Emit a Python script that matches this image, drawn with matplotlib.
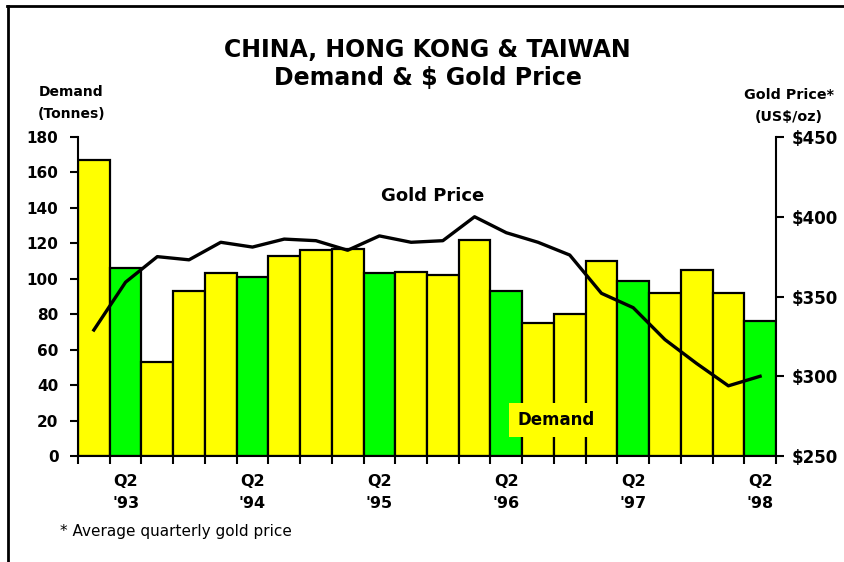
import matplotlib
matplotlib.use('Agg')
import matplotlib.pyplot as plt
from matplotlib.lines import Line2D
from matplotlib.transforms import blended_transform_factory
import numpy as np

plt.rcParams['font.family'] = ['DejaVu Sans']

# quarterly data, Q1 '93 .. Q2 '98
quarters = ['Q1 93', 'Q2 93', 'Q3 93', 'Q4 93', 'Q1 94', 'Q2 94', 'Q3 94', 'Q4 94',
            'Q1 95', 'Q2 95', 'Q3 95', 'Q4 95', 'Q1 96', 'Q2 96', 'Q3 96', 'Q4 96',
            'Q1 97', 'Q2 97', 'Q3 97', 'Q4 97', 'Q1 98', 'Q2 98']
demand = [167, 106, 53, 93, 103, 101, 113, 116, 117, 103, 104, 102,
          122, 93, 75, 80, 110, 99, 92, 105, 92, 76]
gold_price = [329, 359, 375, 373, 384, 381, 386, 385, 379, 388, 384, 385,
              400, 390, 384, 376, 352, 343, 323, 308, 294, 300]
years = ["'93", "'94", "'95", "'96", "'97", "'98"]

yellow = '#FFFF00'
green = '#00FF00'

fig = plt.figure(figsize=(8.45, 5.62), dpi=100)
ax = fig.add_axes([0.0923, 0.1886, 0.826, 0.5676])

x = np.arange(len(demand))
cols = [green if q.startswith('Q2') else yellow for q in quarters]
ax.bar(x, demand, width=1.0, color=cols, edgecolor='black', linewidth=1.6, zorder=2)
ax.set_xlim(-0.5, len(demand) - 0.5)
ax.set_ylim(0, 180)
ax.set_yticks(np.arange(0, 181, 20))
ax.tick_params(axis='y', direction='out', length=6, width=1.5, labelsize=11, pad=8)
for t in ax.get_yticklabels():
    t.set_fontweight('bold')

# x ticks at bar boundaries, labels under the Q2 bars
ax.set_xticks(np.arange(-0.5, len(demand), 1.0))
ax.set_xticklabels([])
ax.tick_params(axis='x', direction='out', length=6, width=1.5)
trans = blended_transform_factory(ax.transData, fig.transFigure)
q2_pos = [i for i, q in enumerate(quarters) if q.startswith('Q2')]
for p, yr in zip(q2_pos, years):
    ax.text(p, 0.1345, 'Q2', transform=trans, ha='center', va='baseline',
            fontsize=11.5, fontweight='bold')
    ax.text(p, 0.0955, yr, transform=trans, ha='center', va='baseline',
            fontsize=11.5, fontweight='bold')

ax.spines['top'].set_visible(False)
ax.spines['right'].set_visible(False)
ax.spines['left'].set_linewidth(1.5)
ax.spines['bottom'].set_linewidth(1.5)

ax2 = ax.twinx()
ax2.plot(x, gold_price, color='black', linewidth=2.4, zorder=5)
ax2.set_ylim(250, 450)
ax2.set_yticks([250, 300, 350, 400, 450])
ax2.set_yticklabels(['$250', '$300', '$350', '$400', '$450'])
ax2.tick_params(axis='y', direction='out', length=6, width=1.5, labelsize=12, pad=5.5)
for t in ax2.get_yticklabels():
    t.set_fontweight('bold')
ax2.spines['top'].set_visible(False)
ax2.spines['left'].set_visible(False)
ax2.spines['bottom'].set_visible(False)
ax2.spines['right'].set_linewidth(1.5)

fig.text(0.5124, 0.6425, 'Gold Price', ha='center', va='baseline',
         fontsize=13, fontweight='bold')
fig.text(0.658, 0.2438, 'Demand', ha='center', va='baseline', fontsize=12,
         fontweight='bold', zorder=6,
         bbox=dict(boxstyle='square,pad=0.5', facecolor=yellow, edgecolor='none'))

fig.text(0.506, 0.898, 'CHINA, HONG KONG & TAIWAN', ha='center', va='baseline',
         fontsize=17, fontweight='bold')
fig.text(0.506, 0.849, 'Demand & $ Gold Price', ha='center', va='baseline',
         fontsize=17, fontweight='bold')
fig.text(0.0846, 0.829, 'Demand', ha='center', va='baseline', fontsize=10, fontweight='bold')
fig.text(0.0846, 0.790, '(Tonnes)', ha='center', va='baseline', fontsize=10, fontweight='bold')
fig.text(0.934, 0.823, 'Gold Price*', ha='center', va='baseline', fontsize=10.3, fontweight='bold')
fig.text(0.934, 0.785, '(US$/oz)', ha='center', va='baseline', fontsize=10.3, fontweight='bold')
fig.text(0.071, 0.0463, '* Average quarterly gold price', ha='left', va='baseline', fontsize=11)

# frame lines (left and top)
fig.add_artist(Line2D([0.0095, 0.0095], [0.0, 0.99], transform=fig.transFigure,
                      color='black', linewidth=2))
fig.add_artist(Line2D([0.0085, 1.0], [0.99, 0.99], transform=fig.transFigure,
                      color='black', linewidth=2))

fig.savefig('out.png', dpi=100)
